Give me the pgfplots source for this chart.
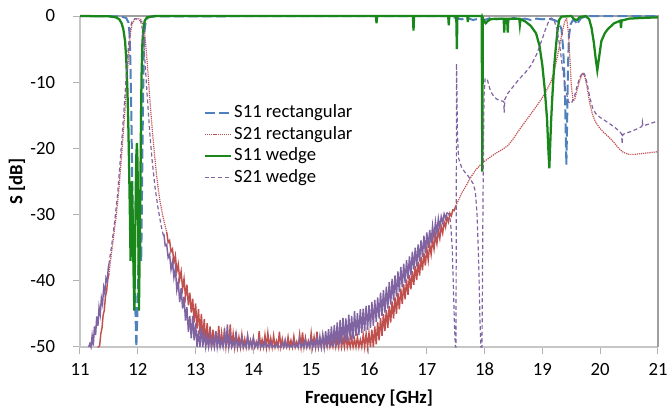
\documentclass[border=0pt]{standalone}
\usepackage{fontspec}
\setmainfont{Carlito}
\usepackage{pgfplots}
\pgfplotsset{compat=1.18}
\definecolor{cblue}{HTML}{4F81BD}
\definecolor{cred}{HTML}{C0504D}
\definecolor{cgreen}{RGB}{25,135,25}
\definecolor{cpurple}{HTML}{8064A2}
\begin{document}
\fontsize{14}{17}\selectfont
\begin{tikzpicture}[font=\fontsize{14}{17}\selectfont]
\useasboundingbox (-60pt,-45pt) rectangle (441.75pt,260.25pt);
\begin{axis}[
  at={(0,0)}, anchor=south west,
  scale only axis, width=433.5pt, height=248.25pt,
  xmin=11, xmax=21, ymin=-50, ymax=0,
  clip=false,
  axis line style={draw=none},
  xtick={11,12,13,14,15,16,17,18,19,20,21},
  xticklabels={11,12,13,14,15,16,17,18,19,20,21},
  ytick={-50,-40,-30,-20,-10,0},
  yticklabels={-50,-40,-30,-20,-10,0},
  tick align=outside, tick pos=left,
  major tick length=5pt,
  every tick/.style={gray!60, line width=0.75pt},
  xticklabel style={anchor=center, inner sep=0pt, yshift=-11.6pt},
  yticklabel style={anchor=east, inner sep=0pt, xshift=-13.5pt},
  xlabel={\bfseries Frequency [GHz]},
  ylabel={\bfseries S [dB]},
  xlabel style={at={(axis description cs:0.5,-0.154)}, anchor=center, inner sep=0pt},
  ylabel style={at={(axis description cs:-0.109,0.5)}, anchor=center, inner sep=0pt},
  legend style={at={(rel axis cs:0.214,0.733)}, anchor=north west, draw=none, fill=none,
    inner sep=0pt, outer sep=0pt, row sep=3.1pt,
    nodes={inner sep=0pt, text height=10pt, text depth=3pt},
    /tikz/every odd column/.append style={column sep=1.2pt}},
  legend cell align=left,
  legend image code/.code={\draw[#1] (0pt,0pt) -- (20pt,0pt);},
]
\draw[gray!45, line width=0.8pt] (rel axis cs:0,1) -- (rel axis cs:0,0) -- (rel axis cs:1,0);
\draw[gray!75, line width=0.8pt] (rel axis cs:0,1) -- (rel axis cs:1,1) -- (rel axis cs:1,0);

\addlegendimage{cblue, line width=1.5pt, dash pattern=on 7.5pt off 3pt}
\addlegendentry{S11 rectangular}
\addlegendimage{cred, line width=0.9pt, dash pattern=on 0.9pt off 0.7pt}
\addlegendentry{S21 rectangular}
\addlegendimage{cgreen, line width=1.7pt}
\addlegendentry{S11 wedge}
\addlegendimage{cpurple, line width=0.9pt, dash pattern=on 3pt off 2pt}
\addlegendentry{S21 wedge}

% S11 rectangular
\addplot[forget plot, cblue, line width=1.5pt, dash pattern=on 7.5pt off 3pt] coordinates {
(11,0) (11.7,-0.05) (11.8,-0.3) (11.84,-1) (11.86,-3) (11.875,-8) (11.89,-16) (11.905,-25)
(11.92,-32) (11.94,-38) (11.96,-45) (11.975,-50) (11.99,-46) (12.01,-38) (12.03,-31) (12.045,-35)
(12.06,-37) (12.075,-25) (12.09,-13) (12.105,-5) (12.12,-2) (12.14,-0.7) (12.18,-0.2) (12.3,-0.05)
(17.4,0) (17.5,-0.3) (17.6,-0.5) (17.7,-0.3) (17.8,-0.6) (17.9,-0.4) (18.0,-0.6) (18.1,-0.3)
(18.2,-0.5) (18.3,-0.4) (18.4,-0.6) (18.5,-0.3) (18.6,-0.5) (18.7,-0.4) (18.8,-0.6) (18.9,-0.4)
(19.0,-0.5) (19.1,-0.4) (19.2,-0.6) (19.28,-0.9) (19.33,-2) (19.36,-5) (19.385,-10) (19.40,-16)
(19.415,-22.5) (19.43,-15) (19.445,-7) (19.46,-3) (19.49,-1.2) (19.53,-0.6) (19.57,-0.8) (19.6,-1.3)
(19.63,-0.8) (19.67,-0.3) (19.75,-0.1) (19.85,0) (21,0)
};

% S21 rectangular - left skirt (noisy)
\addplot[forget plot, cred, line width=1.1pt] coordinates {
(11.30,-50) (11.32,-50) (11.34,-49.8) (11.36,-48.0) (11.38,-47.2) (11.40,-45.2) (11.42,-44.5)
(11.44,-42.4) (11.46,-41.6) (11.48,-39.8) (11.50,-39.0)
};
% S21 rectangular - passband (smooth)
\addplot[forget plot, cred, line width=0.9pt, dash pattern=on 0.9pt off 0.7pt] coordinates {
(11.50,-39.0) (11.55,-35.5) (11.6,-32) (11.63,-30) (11.68,-25.5) (11.72,-21) (11.75,-17.5)
(11.78,-14) (11.81,-10) (11.84,-6) (11.87,-2.8) (11.9,-1.2) (11.95,-0.5) (12.0,-0.4) (12.05,-0.5)
(12.09,-1.2) (12.12,-2.8) (12.15,-5.5) (12.18,-9) (12.21,-12.8) (12.25,-17.2) (12.29,-21)
(12.33,-24.5) (12.38,-27.8) (12.44,-30.5) (12.5,-32.6)
};
% S21 rectangular - stopband (noisy)
\addplot[forget plot, cred, line width=1.1pt] coordinates {
(12.500,-32.6) (12.525,-34.2) (12.550,-33.9) (12.575,-35.6) (12.600,-35.2) (12.625,-37.3)
(12.650,-36.2) (12.675,-38.6) (12.700,-37.5) (12.725,-39.8) (12.750,-38.6) (12.775,-41.2)
(12.800,-39.7) (12.825,-42.4) (12.850,-40.6) (12.875,-43.7) (12.900,-41.8) (12.925,-44.8)
(12.950,-42.7) (12.975,-46.3) (13.000,-43.4) (13.025,-47.2) (13.050,-44.3) (13.075,-48.1)
(13.100,-45.0) (13.125,-48.9) (13.150,-45.8) (13.175,-49.6) (13.200,-46.4) (13.225,-50)
(13.250,-46.9) (13.275,-50) (13.300,-47.4) (13.325,-50) (13.350,-47.6) (13.375,-50)
(13.400,-46.8) (13.425,-50) (13.450,-47.9) (13.475,-50) (13.500,-47.2) (13.525,-50)
(13.550,-48.3) (13.575,-50) (13.600,-46.6) (13.625,-50) (13.650,-48.0) (13.675,-50)
(13.700,-47.7) (13.725,-50) (13.750,-48.5) (13.775,-50) (13.800,-48.1) (13.825,-50)
(13.850,-48.8) (13.875,-50) (13.900,-48.4) (13.925,-50) (13.950,-49.0) (13.975,-50)
(14.000,-48.6) (14.025,-50) (14.050,-49.2) (14.075,-50) (14.100,-47.6) (14.125,-50)
(14.150,-48.9) (14.175,-50) (14.200,-48.2) (14.225,-50) (14.250,-47.9) (14.275,-50)
(14.300,-48.7) (14.325,-50) (14.350,-48.3) (14.375,-50) (14.400,-49.1) (14.425,-50)
(14.450,-47.7) (14.475,-50) (14.500,-48.8) (14.525,-50) (14.550,-49.3) (14.575,-50)
(14.600,-48.5) (14.625,-50) (14.650,-49.0) (14.675,-50) (14.700,-48.4) (14.725,-50)
(14.750,-49.2) (14.775,-50) (14.800,-48.1) (14.825,-50) (14.850,-47.8) (14.875,-50)
(14.900,-48.6) (14.925,-50) (14.950,-49.1) (14.975,-50) (15.000,-47.9) (15.025,-50)
(15.050,-48.5) (15.075,-50) (15.100,-47.7) (15.125,-50) (15.150,-48.9) (15.175,-50)
(15.200,-48.3) (15.225,-50) (15.250,-49.0) (15.275,-50) (15.300,-48.6) (15.325,-50)
(15.350,-49.2) (15.375,-50) (15.400,-48.4) (15.425,-50) (15.450,-48.8) (15.475,-50)
(15.500,-48.1) (15.525,-50) (15.550,-48.7) (15.575,-50) (15.600,-48.3) (15.625,-50)
(15.650,-48.9) (15.675,-50) (15.700,-48.6) (15.725,-50) (15.750,-48.8) (15.775,-50)
(15.800,-48.5) (15.825,-50) (15.850,-48.9) (15.875,-50) (15.900,-48.2) (15.925,-50)
(15.950,-48.0) (15.975,-50) (16.000,-47.9) (16.025,-50) (16.050,-47.4) (16.075,-50)
(16.100,-46.9) (16.125,-49.6) (16.150,-46.2) (16.175,-49.0) (16.200,-45.6) (16.225,-48.3)
(16.250,-45.0) (16.275,-47.6) (16.300,-44.4) (16.325,-47.1) (16.350,-43.8) (16.375,-46.3)
(16.400,-43.1) (16.425,-45.7) (16.450,-42.5) (16.475,-45.0) (16.500,-41.8) (16.525,-44.3)
(16.550,-41.2) (16.575,-43.5) (16.600,-40.5) (16.625,-42.8) (16.650,-39.8) (16.675,-42.1)
(16.700,-39.1) (16.725,-41.3) (16.750,-38.5) (16.775,-40.6) (16.800,-37.8) (16.825,-39.9)
(16.850,-37.1) (16.875,-39.2) (16.900,-36.4) (16.925,-38.4) (16.950,-35.8) (16.975,-37.7)
(17.000,-35.1) (17.025,-36.9) (17.050,-34.5) (17.075,-36.0) (17.100,-33.8) (17.125,-35.2)
(17.150,-33.1) (17.175,-34.4) (17.200,-32.4) (17.225,-33.6) (17.250,-31.8) (17.275,-32.8)
(17.300,-31.1) (17.325,-31.9) (17.350,-30.4) (17.375,-31.1) (17.400,-29.8) (17.425,-30.2)
(17.450,-29.3) (17.475,-29.4) (17.500,-28.7)
};
% S21 rectangular - upper band (smooth)
\addplot[forget plot, cred, line width=0.9pt, dash pattern=on 0.9pt off 0.7pt] coordinates {
(17.5,-28.7) (17.55,-27.8) (17.6,-26.8) (17.67,-25.8) (17.75,-24.5) (17.85,-23.2) (17.96,-22.2)
(18.1,-21.3) (18.2,-20.7) (18.3,-20.2) (18.4,-19.6) (18.5,-18.5) (18.6,-17.2) (18.7,-16.0)
(18.8,-14.8) (18.9,-13.6) (19.0,-12.3) (19.1,-10.8) (19.15,-9.9) (19.2,-8.5) (19.25,-6.5)
(19.3,-4.3) (19.35,-2.2) (19.39,-0.7) (19.42,-0.4) (19.45,-2.5) (19.48,-7) (19.5,-10.5)
(19.53,-12.8) (19.56,-12.6) (19.6,-11.2) (19.65,-9.6) (19.7,-8.7) (19.73,-9.0) (19.77,-10.6)
(19.82,-13.2) (19.87,-15.0) (19.92,-16.0) (19.98,-16.8) (20.05,-17.5) (20.15,-18.3) (20.25,-19.2)
(20.32,-20.0) (20.4,-20.6) (20.5,-20.9) (20.6,-20.9) (20.7,-20.8) (20.8,-20.7) (20.9,-20.6) (21,-20.5)
};

% S11 wedge
\addplot[forget plot, cgreen, line width=1.7pt] coordinates {
(11,0) (11.5,-0.05) (11.62,-0.2) (11.68,-0.5) (11.72,-1.1) (11.75,-2) (11.78,-3.8) (11.8,-6.5)
(11.82,-11) (11.835,-16) (11.85,-23) (11.865,-31) (11.875,-37) (11.885,-29) (11.895,-25)
(11.91,-30) (11.925,-38) (11.94,-44.5) (11.955,-34) (11.965,-26) (11.975,-21) (11.985,-19.2)
(11.995,-22) (12.005,-30) (12.02,-44.5) (12.035,-34) (12.045,-26) (12.055,-16) (12.065,-9)
(12.08,-4) (12.095,-2) (12.12,-0.7) (12.16,-0.2) (12.3,0) (16.12,0) (16.13,-1.1) (16.14,0)
(16.76,0) (16.77,-2.2) (16.78,0) (17.37,0) (17.38,-1.4) (17.39,0) (17.51,0) (17.52,-5) (17.53,0)
(17.7,0) (17.71,-0.9) (17.72,0) (17.95,0) (17.96,-23.5) (17.97,-0.3) (18.0,-0.9) (18.02,-1.1)
(18.05,-0.8) (18.1,-0.5) (18.2,-0.4) (18.33,-0.4) (18.34,-2.5) (18.35,-0.4) (18.39,-0.4)
(18.4,-2.5) (18.41,-0.4) (18.6,-0.4) (18.61,-1.3) (18.62,-0.5) (18.7,-0.8) (18.8,-1.5)
(18.89,-2.6) (18.95,-4.5) (19.0,-7.5) (19.04,-11) (19.08,-15.5) (19.105,-20.5) (19.12,-23)
(19.135,-19.5) (19.15,-16) (19.17,-12.5) (19.2,-8) (19.23,-5) (19.26,-2.3) (19.29,-0.6)
(19.33,-0.1) (19.5,0) (19.55,-0.5) (19.6,-0.6) (19.64,-0.2) (19.75,0) (19.81,-0.5) (19.85,-1.8)
(19.89,-4) (19.92,-6.3) (19.95,-8.2) (19.98,-6.3) (20.02,-3.8) (20.08,-2.6) (20.13,-2.0)
(20.24,-1.1) (20.35,-0.7) (20.36,-1.8) (20.37,-0.7) (20.5,-0.4) (20.7,-0.3) (21,-0.2)
};

% S21 wedge - left skirt (noisy)
\addplot[forget plot, cpurple, line width=1.1pt] coordinates {
(11.15,-50) (11.17,-49.5) (11.19,-50) (11.21,-48.3) (11.23,-49.8) (11.25,-46.9) (11.27,-48.2)
(11.29,-45.4) (11.31,-46.8) (11.33,-44.0) (11.35,-45.1) (11.37,-42.6) (11.39,-43.5) (11.41,-41.0)
(11.43,-41.9) (11.45,-39.6) (11.47,-40.1) (11.49,-38.0) (11.5,-37.5)
};
% S21 wedge - passband (smooth)
\addplot[forget plot, cpurple, line width=0.9pt, dash pattern=on 3pt off 2pt] coordinates {
(11.5,-37.5) (11.55,-34.5) (11.6,-31) (11.65,-27) (11.69,-22.5) (11.73,-18) (11.77,-13)
(11.80,-9) (11.835,-5) (11.865,-2) (11.9,-0.8) (11.95,-0.4) (12.0,-0.4) (12.05,-0.8) (12.08,-2)
(12.11,-5) (12.14,-9) (12.17,-13) (12.21,-18) (12.25,-22) (12.3,-26) (12.35,-29) (12.4,-31.5)
(12.45,-33.5)
};
% S21 wedge - stopband (noisy)
\addplot[forget plot, cpurple, line width=1.1pt] coordinates {
(12.450,-32.9) (12.475,-34.7) (12.500,-34.5) (12.525,-36.5) (12.550,-36.0) (12.575,-38.3)
(12.600,-37.2) (12.625,-39.5) (12.650,-38.1) (12.675,-41.4) (12.700,-40.2) (12.725,-43.2)
(12.750,-41.1) (12.775,-44.2) (12.800,-42.4) (12.825,-46.0) (12.850,-44.0) (12.875,-47.7)
(12.900,-45.3) (12.925,-48.7) (12.950,-45.3) (12.975,-49.0) (13.000,-46.4) (13.025,-50)
(13.050,-47.5) (13.075,-50) (13.100,-47.0) (13.125,-50) (13.150,-47.7) (13.175,-50)
(13.200,-48.6) (13.225,-50) (13.250,-48.2) (13.275,-50) (13.300,-48.8) (13.325,-50)
(13.350,-47.6) (13.375,-50) (13.400,-48.4) (13.425,-50) (13.450,-49.0) (13.475,-50)
(13.500,-47.9) (13.525,-50) (13.550,-46.6) (13.575,-50) (13.600,-48.5) (13.625,-50)
(13.650,-49.2) (13.675,-50) (13.700,-48.1) (13.725,-50) (13.750,-49.3) (13.775,-50)
(13.800,-48.6) (13.825,-50) (13.850,-49.5) (13.875,-50) (13.900,-48.3) (13.925,-50)
(13.950,-49.0) (13.975,-50) (14.000,-48.7) (14.025,-50) (14.050,-49.4) (14.075,-50)
(14.100,-48.9) (14.125,-50) (14.150,-49.6) (14.175,-50) (14.200,-49.1) (14.225,-50)
(14.250,-49.7) (14.275,-50) (14.300,-49.3) (14.325,-50) (14.350,-49.8) (14.375,-50)
(14.400,-49.5) (14.425,-50) (14.450,-49.9) (14.475,-50) (14.500,-49.4) (14.525,-50)
(14.550,-48.9) (14.575,-50) (14.600,-49.6) (14.625,-50) (14.650,-49.8) (14.675,-50)
(14.700,-49.2) (14.725,-50) (14.750,-49.7) (14.775,-50) (14.800,-48.8) (14.825,-50)
(14.850,-49.5) (14.875,-50) (14.900,-49.0) (14.925,-50) (14.950,-49.3) (14.975,-50)
(15.000,-48.9) (15.025,-50) (15.050,-49.1) (15.075,-50) (15.100,-48.7) (15.125,-50)
(15.150,-48.4) (15.175,-50) (15.200,-48.2) (15.225,-50) (15.250,-47.6) (15.275,-50)
(15.300,-47.3) (15.325,-50) (15.350,-46.9) (15.375,-50) (15.400,-46.7) (15.425,-49.9)
(15.450,-46.3) (15.475,-49.8) (15.500,-45.9) (15.525,-49.6) (15.550,-45.6) (15.575,-49.3)
(15.600,-45.7) (15.625,-49.2) (15.650,-45.1) (15.675,-48.9) (15.700,-45.3) (15.725,-48.8)
(15.750,-44.6) (15.775,-48.3) (15.800,-44.9) (15.825,-48.2) (15.850,-44.3) (15.875,-47.9)
(15.900,-44.2) (15.925,-47.6) (15.950,-43.8) (15.975,-47.4) (16.000,-43.7) (16.025,-47.1)
(16.050,-43.2) (16.075,-46.8) (16.100,-42.9) (16.125,-46.2) (16.150,-42.5) (16.175,-45.7)
(16.200,-41.8) (16.225,-45.3) (16.250,-41.4) (16.275,-44.8) (16.300,-40.9) (16.325,-44.2)
(16.350,-40.2) (16.375,-43.6) (16.400,-39.7) (16.425,-43.0) (16.450,-39.2) (16.475,-42.4)
(16.500,-38.6) (16.525,-41.7) (16.550,-37.9) (16.575,-41.0) (16.600,-37.4) (16.625,-40.3)
(16.650,-36.9) (16.675,-39.7) (16.700,-36.3) (16.725,-39.1) (16.750,-35.6) (16.775,-38.3)
(16.800,-35.0) (16.825,-37.8) (16.850,-34.5) (16.875,-37.1) (16.900,-33.9) (16.925,-36.4)
(16.950,-33.2) (16.975,-35.8) (17.000,-32.7) (17.025,-35.0) (17.050,-32.3) (17.075,-34.3)
(17.100,-31.7) (17.125,-33.5) (17.150,-31.1) (17.175,-32.8) (17.200,-30.6) (17.225,-32.0)
(17.250,-30.3) (17.275,-31.2) (17.300,-29.9) (17.325,-30.6) (17.350,-29.7)
};
% S21 wedge - upper band (smooth)
\addplot[forget plot, cpurple, line width=0.9pt, dash pattern=on 3pt off 2pt] coordinates {
(17.35,-29.7) (17.38,-29.9) (17.41,-31) (17.44,-35) (17.46,-41) (17.48,-47) (17.495,-50)
(17.505,-50) (17.515,-7.2) (17.53,-18) (17.55,-21.5) (17.6,-22.8) (17.65,-23.5) (17.7,-24)
(17.75,-24.6) (17.8,-25.3) (17.84,-26.5) (17.87,-30) (17.9,-38) (17.92,-46) (17.935,-50)
(17.955,-50) (17.975,-25) (17.99,-12) (18.01,-9.4) (18.05,-9.7) (18.1,-11.3) (18.16,-12.2)
(18.22,-12.6) (18.28,-12.8) (18.33,-12.9) (18.34,-14.6) (18.35,-12.6) (18.4,-11.7) (18.5,-10.6)
(18.6,-9.5) (18.7,-8.6) (18.8,-7.5) (18.9,-5.8) (19.0,-3.4) (19.05,-2.1) (19.1,-1.0) (19.15,-0.3)
(19.2,-0.5) (19.25,-2) (19.3,-4.5) (19.35,-8) (19.4,-11) (19.45,-13) (19.5,-13.2) (19.55,-12.3)
(19.6,-10.6) (19.65,-9.2) (19.7,-8.5) (19.73,-8.8) (19.77,-10) (19.82,-12.3) (19.87,-13.9)
(19.92,-14.7) (19.98,-15.2) (20.05,-15.6) (20.15,-16.2) (20.25,-16.8) (20.33,-17.4) (20.37,-17.8)
(20.38,-19.3) (20.39,-17.9) (20.45,-17.7) (20.55,-17.4) (20.65,-17.0) (20.72,-16.7) (20.73,-16.0)
(20.74,-16.6) (20.85,-16.3) (20.95,-16.0) (21,-15.9)
};
\end{axis}
\end{tikzpicture}
\end{document}
